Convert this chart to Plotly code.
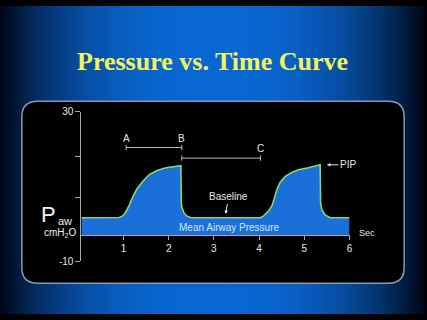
import plotly.graph_objects as go

W, H = 427, 320

# ---------------- data ----------------
time_s = [0.07, 0.86, 0.91, 0.98, 1.04, 1.13, 1.19, 1.30, 1.43, 1.57, 1.74, 1.94, 2.12, 2.27,
          2.28, 2.29, 2.34, 2.40, 2.49, 4.03, 4.10, 4.21, 4.29, 4.36, 4.40, 4.47, 4.58,
          4.71, 4.87, 5.09, 5.35, 5.36, 5.39, 5.46, 5.57, 6.0]
paw = [1.6, 1.6, 1.7, 2.1, 2.9, 5.0, 6.8, 9.4, 11.4, 13.2, 14.3, 15.0, 15.4, 15.6,
       5.5, 4.5, 2.9, 2.1, 1.6, 1.6, 2.1, 3.4, 5.0, 7.6, 9.4, 11.2, 12.7,
       13.7, 14.5, 15.0, 15.8, 5.5, 3.7, 2.4, 1.6, 1.6]
axis_level = -3.0
x_ticks = [1, 2, 3, 4, 5, 6]
y_tickvals = [30, -10]
y_ticktext = ["30", "-10"]
y_minor_ticks = [18.1, 7.0]
bracket_a, bracket_b, bracket_c = 1.06, 2.29, 4.03

def pxx(x):
    return x / W

def pxy(y):
    return 1 - y / H

fig = go.Figure()

# fill base
fig.add_trace(go.Scatter(x=[time_s[0], time_s[-1]], y=[axis_level, axis_level], mode="lines",
                         line=dict(width=0, color="rgba(0,0,0,0)"), hoverinfo="skip", showlegend=False))
fig.add_trace(go.Scatter(x=time_s, y=paw, mode="lines", fill="tonexty",
                         fillcolor="#1a6fd8", line=dict(color="#86d872", width=1.6),
                         hoverinfo="skip", showlegend=False))

# brackets
tk = 0.7
ab_y, bc_y = 20.45, 17.6
fig.add_trace(go.Scatter(
    x=[bracket_a, bracket_a, None, bracket_a, bracket_b, None, bracket_b, bracket_b, None,
       bracket_b, bracket_b, None, bracket_b, bracket_c, None, bracket_c, bracket_c],
    y=[ab_y - tk, ab_y + tk, None, ab_y, ab_y, None, ab_y - tk, ab_y + tk, None,
       bc_y - tk, bc_y + tk, None, bc_y, bc_y, None, bc_y - tk, bc_y + tk],
    mode="lines", line=dict(color="#b8b8b8", width=1), hoverinfo="skip", showlegend=False))

# background gradient strips
shapes = []
step = 3
cx = W / 2
c_center = (10, 104, 212)
c_edge = (0, 6, 22)
for x0 in range(0, W, step):
    xm = x0 + step / 2
    d = abs(xm - cx) / cx
    f = max(0.0, 1 - d ** 2.6)
    col = tuple(int(c_edge[i] + (c_center[i] - c_edge[i]) * f) for i in range(3))
    shapes.append(dict(type="rect", xref="paper", yref="paper",
                       x0=pxx(x0), x1=pxx(min(W, x0 + step + 1)), y0=0, y1=1,
                       fillcolor="rgb(%d,%d,%d)" % col, line=dict(width=0), layer="below"))

# rounded panel
L, T, R, B, r = 22, 99, 407, 288, 16
def P(x, y):
    return f"{pxx(x):.5f},{pxy(y):.5f}"
path = (f"M {P(L + r, T)} L {P(R - r, T)} Q {P(R, T)} {P(R, T + r)} "
        f"L {P(R, B - r)} Q {P(R, B)} {P(R - r, B)} L {P(L + r, B)} "
        f"Q {P(L, B)} {P(L, B - r)} L {P(L, T + r)} Q {P(L, T)} {P(L + r, T)} Z")
shapes.append(dict(type="path", xref="paper", yref="paper", path=path,
                   fillcolor="#000000", line=dict(color="#8597b4", width=1.5), layer="below"))

font_s = "Liberation Sans, Arial, sans-serif"
white = "#e8e8e8"
ann = []

def paper_text(text, x, y, size, color=white, family=font_s):
    ann.append(dict(text=text, xref="paper", yref="paper", x=pxx(x), y=pxy(y),
                    xanchor="center", yanchor="middle", showarrow=False,
                    font=dict(family=family, size=size, color=color)))

paper_text("<b>Pressure vs. Time Curve</b>", 213.5, 58, 26, "#f4f55a",
           "Liberation Serif, Times New Roman, serif")
for lab, xv, yv in [("A", bracket_a, 22.9), ("B", bracket_b, 22.9), ("C", bracket_c, 20.2)]:
    ann.append(dict(text=lab, x=xv, y=yv, xref="x", yref="y", showarrow=False,
                    xanchor="center", yanchor="middle",
                    font=dict(family=font_s, size=10, color=white)))
ann.append(dict(text="PIP", x=5.50, y=15.8, xref="x", yref="y", ax=21, ay=0,
                showarrow=True, arrowhead=2, arrowsize=0.7, arrowwidth=1, arrowcolor=white,
                font=dict(family=font_s, size=10, color=white)))
ann.append(dict(text="Baseline", x=3.26, y=2.65, xref="x", yref="y", ax=3, ay=-17,
                showarrow=True, arrowhead=2, arrowsize=0.7, arrowwidth=1, arrowcolor=white,
                font=dict(family=font_s, size=10, color=white)))
ann.append(dict(text="Mean Airway Pressure", x=3.33, y=-0.97, xref="x", yref="y", showarrow=False,
                xanchor="center", yanchor="middle",
                font=dict(family=font_s, size=10, color="#d6e6ff")))
paper_text("Sec", 370, 236, 9)
paper_text("P", 49, 217, 22, "#f0f0f0")
paper_text("aw", 65, 223, 11, "#f0f0f0")
paper_text("cmH<sub>2</sub>O", 60, 236, 10, "#f0f0f0")

fig.update_layout(
    width=W, height=H, autosize=False, margin=dict(l=0, r=0, t=0, b=0),
    paper_bgcolor="#000000", plot_bgcolor="rgba(0,0,0,0)",
    shapes=shapes, annotations=ann, showlegend=False,
    xaxis=dict(domain=[pxx(82), pxx(352)], range=[0.07, 6.0], anchor="free", position=pxy(238),
               showline=True, linecolor="#a8a8a8", linewidth=1, showgrid=False, zeroline=False,
               tickvals=x_ticks, ticks="outside", ticklen=4, tickcolor="#a8a8a8",
               tickfont=dict(family=font_s, size=10, color=white)),
    yaxis=dict(domain=[pxy(265), pxy(110)], range=[-10, 30], anchor="x",
               showline=True, linecolor="#a8a8a8", linewidth=1, showgrid=False, zeroline=False,
               tickvals=y_tickvals, ticktext=y_ticktext, ticks="outside", ticklen=5,
               tickcolor="#a8a8a8", tickfont=dict(family=font_s, size=10, color=white),
               minor=dict(tickmode="array", tickvals=y_minor_ticks, ticks="outside", ticklen=5,
                          tickcolor="#a8a8a8", showgrid=False)),
)

fig.write_html("out.html")
